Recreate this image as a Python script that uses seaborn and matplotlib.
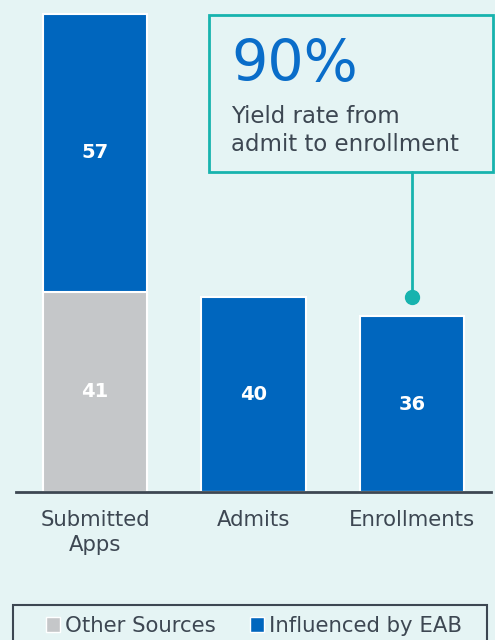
import matplotlib
matplotlib.use("Agg")
import matplotlib.pyplot as plt
from matplotlib.patches import Patch, Rectangle
import numpy as np
import pandas as pd
import seaborn as sns

# Data
stages = ["Submitted\nApps", "Admits", "Enrollments"]
other_sources = [41, 0, 0]
influenced_eab = [57, 40, 36]
yield_label = "90%"
yield_text = "Yield rate from\nadmit to enrollment"

bg = "#E5F4F4"
blue = "#0066BE"
gray = "#C5C7C9"
teal = "#17B3AE"
txt = "#3D4752"

sns.set_theme(style="white", rc={"axes.facecolor": bg, "figure.facecolor": bg})
plt.rcParams["font.family"] = ["DejaVu Sans"]

df = pd.DataFrame({"stage": stages, "other": other_sources, "eab": influenced_eab})
df["total"] = df["other"] + df["eab"]

fig = plt.figure(figsize=(4.95, 6.4), dpi=100)
ax = fig.add_axes([16 / 495, 148 / 640, 475 / 495, 488 / 640])

# totals in blue, then the other-sources part in gray on top of it
sns.barplot(data=df, x="stage", y="total", color=blue, saturation=1,
            width=0.66, edgecolor="white", linewidth=1.5, ax=ax)
sns.barplot(data=df, x="stage", y="other", color=gray, saturation=1,
            width=0.66, edgecolor="white", linewidth=1.5, ax=ax)

ax.set_xlim(-0.5, 2.5)
ax.set_ylim(0, 100)
ax.set_xlabel("")
ax.set_ylabel("")
ax.set_yticks([])
for s in ["top", "right", "left"]:
    ax.spines[s].set_visible(False)
ax.spines["bottom"].set_color(txt)
ax.spines["bottom"].set_linewidth(2)
ax.tick_params(axis="x", length=0, pad=13, labelsize=15.3, labelcolor=txt)
for lab in ax.get_xticklabels():
    lab.set_linespacing(1.3)

# value labels
for i, row in df.iterrows():
    if row["other"] > 0:
        ax.text(i, row["other"] / 2, str(row["other"]), ha="center", va="center",
                color="white", fontsize=14, fontweight="bold")
    ax.text(i, row["other"] + row["eab"] / 2, str(row["eab"]), ha="center", va="center",
            color="white", fontsize=14, fontweight="bold")

# callout box
box = Rectangle((0.72, 65.6), 1.79, 32.1, facecolor="none", edgecolor=teal,
                linewidth=2, clip_on=False, zorder=3)
ax.add_patch(box)
ax.plot([2, 2], [65.6, influenced_eab[1]], color=teal, linewidth=2, zorder=3)
ax.plot([2], [influenced_eab[1]], "o", color=teal, markersize=10, zorder=4)
ax.text(0.86, 84.2, yield_label, color="#0A6DC9", fontsize=41, ha="left",
        va="baseline")
ax.text(0.86, 69.8, yield_text, color=txt, fontsize=16.5, ha="left",
        va="baseline", linespacing=1.3)

# legend frame drawn across the width, entries centred inside it
fig.patches.append(Rectangle((13 / 495, -0.01), 474 / 495, 0.01 + 1 - 605 / 640,
                             transform=fig.transFigure, facecolor="none",
                             edgecolor=txt, linewidth=1.5))
handles = [Patch(facecolor=gray, edgecolor="white", label="Other Sources"),
           Patch(facecolor=blue, edgecolor="white", label="Influenced by EAB")]
leg = fig.legend(handles=handles, loc="center", ncol=2,
                 bbox_to_anchor=(254 / 495, 1 - 626 / 640),
                 bbox_transform=fig.transFigure, borderaxespad=0,
                 frameon=False, fontsize=15.3,
                 handlelength=0.65, handleheight=0.65, handletextpad=0.25,
                 columnspacing=1.6, labelcolor=txt)

fig.savefig("out.png", dpi=100, facecolor=bg)
